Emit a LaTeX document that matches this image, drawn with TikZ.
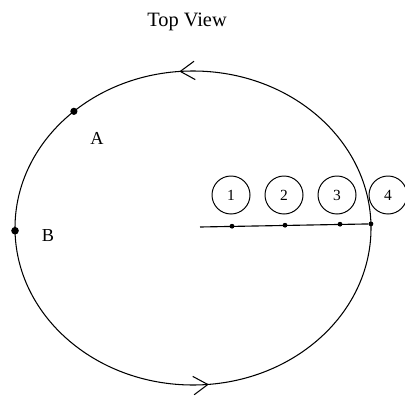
\documentclass[tikz,border=0pt]{standalone}
\usepackage{fontspec}
\setmainfont{Liberation Serif}
\usetikzlibrary{arrows.meta,decorations.markings,calc}
\tikzset{
  orbit/.style={line width=0.75pt, postaction={decorate}, decoration={markings,
                mark=at position 0.263 with {\arrow{Straight Barb[length=3.6mm,width=4.6mm]}},
                mark=at position 0.765 with {\arrow{Straight Barb[length=3.6mm,width=4.6mm]}}}},
  dot/.style={circle, fill=black, inner sep=0pt, minimum size=#1},
  dot/.default=1.4mm,
  ball/.style={circle, draw, line width=0.7pt, minimum size=9.5mm, inner sep=0pt, font=\fontsize{11}{11}\selectfont},
  lbl/.style={font=\fontsize{13}{13}\selectfont},
}
\begin{document}
\begin{tikzpicture}[x=0.025cm, y=0.025cm]
        \useasboundingbox (0,0) rectangle (405,395);
        \node[font=\fontsize{14.5}{14.5}\selectfont] (title) at (187,373) {Top View};
        % path of the circle
        \coordinate (c) at (193,167);
        \draw[orbit] (c) ellipse [x radius=178, y radius=157];
        \node[dot=1.8mm] (a) at ($(c)+(132:178 and 157)$) {};
        \node[dot=1.9mm] (b) at ($(c)+(181:178 and 157)$) {};
        \node[lbl] (la) at (97,257) {A};
        \node[lbl] (lb) at (48,159) {B};
        % radius with the four positions
        \coordinate (hub) at (200,168);
        \node[dot=1.2mm] (p4) at ($(c)+(1.5:178 and 157)$) {};
        \draw[line width=0.8pt] (hub) -- (p4);
        \node[dot=1.2mm] (p1) at (232,168.8) {};
        \node[dot=1.2mm] (p2) at (285,169.8) {};
        \node[dot=1.2mm] (p3) at (340,170.8) {};
        \foreach \i/\x in {1/231,2/284,3/337,4/388}
          \node[ball] (n\i) at (\x,200) {\i};
      \end{tikzpicture}
\end{document}
